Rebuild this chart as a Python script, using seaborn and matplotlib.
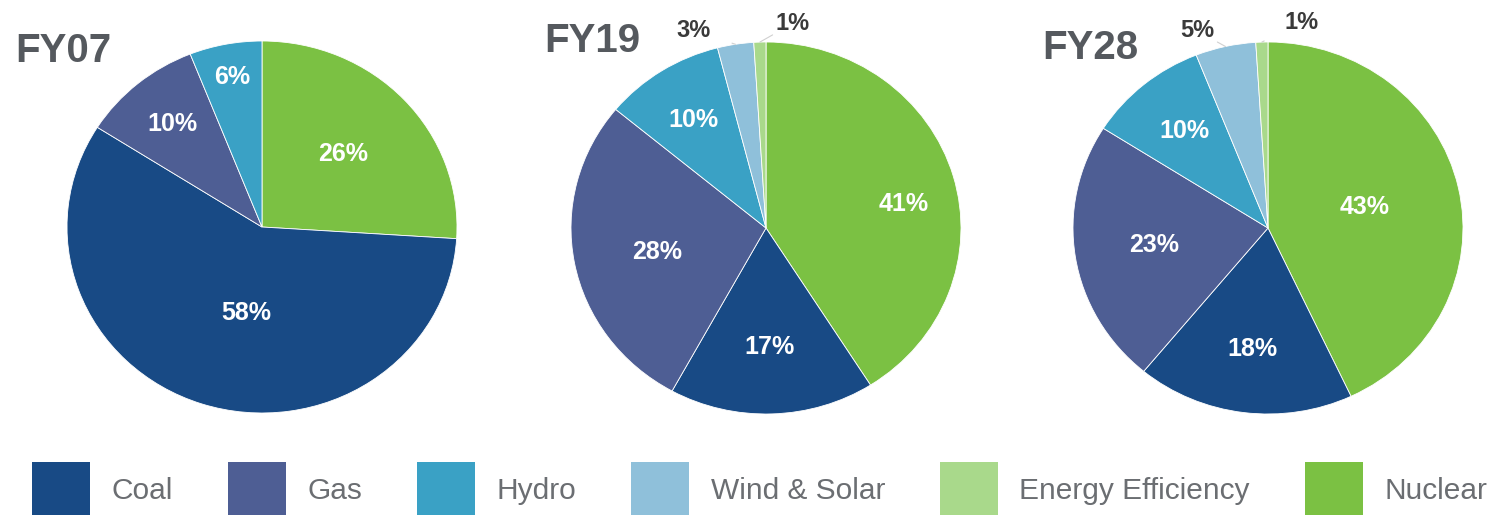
import matplotlib
matplotlib.use("Agg")
import matplotlib.pyplot as plt
import seaborn as sns
import numpy as np
from matplotlib.patches import Patch

# ---- data ----
categories = ["Coal", "Gas", "Hydro", "Wind & Solar", "Energy Efficiency", "Nuclear"]
years = ["FY07", "FY19", "FY28"]
fy07 = [58, 10, 6, 0, 0, 26]
fy19 = [17, 28, 10, 3, 1, 41]
fy28 = [18, 23, 10, 5, 1, 43]
colors = ["#184a85", "#4e5e94", "#3aa1c5", "#8fc0da", "#a9d98b", "#7bc143"]

# ---- style / layout ----
sns.set_theme(style="white")
plt.rcParams['font.family'] = ['Liberation Sans', 'DejaVu Sans']
palette = sns.color_palette(colors)

W, H = 1503, 515
fig = plt.figure(figsize=(W / 100, H / 100), dpi=100)
fig.patch.set_facecolor("white")

order = [5, 0, 1, 2, 3, 4]          # clockwise from top: Nuclear, Coal, Gas, Hydro, Wind, EE
centers = [(262, 227), (766, 228), (1268, 228)]
rx, ry = 195, 186
title_pos = [(15, 62), (544, 52), (1042, 59)]
# per-year label placement: radius and angle nudge for inside labels (by category index)
inner_r = [
    {5: (0.57, 0), 0: (0.47, 8), 1: (0.72, 0), 2: (0.82, 0)},
    {5: (0.72, -6), 0: (0.64, 0), 1: (0.575, 2), 2: (0.69, 0)},
    {5: (0.51, 0), 0: (0.656, 0), 1: (0.59, 0), 2: (0.675, 0)},
]
outer_pos = [
    {},
    {3: (-0.374, 1.06), 4: (0.138, 1.10)},
    {3: (-0.364, 1.06), 4: (0.174, 1.107)},
]

data = [fy07, fy19, fy28]
for k, vals in enumerate(data):
    cx, cy = centers[k]
    ax = fig.add_axes([(cx - rx) / W, (H - cy - ry) / H, 2 * rx / W, 2 * ry / H])
    idx = [i for i in order if vals[i] > 0]
    v = [vals[i] for i in idx]
    wedges, _ = ax.pie(v, colors=[palette[i] for i in idx], startangle=90,
                       counterclock=False, radius=1,
                       wedgeprops=dict(edgecolor="white", linewidth=0.6))
    ax.set_aspect("auto")
    ax.set_xlim(-1, 1)
    ax.set_ylim(-1, 1)
    ax.axis("off")
    for w, i in zip(wedges, idx):
        mid = np.deg2rad((w.theta1 + w.theta2) / 2)
        label = f"{vals[i]}%"
        if i in inner_r[k]:
            r, da = inner_r[k][i]
            a = mid + np.deg2rad(da)
            ax.text(r * np.cos(a), r * np.sin(a), label, ha="center", va="center",
                    color="white", fontsize=18, fontweight="bold")
        elif i in outer_pos[k]:
            tx, ty = outer_pos[k][i]
            ax.annotate(label, xy=(np.cos(mid), np.sin(mid)), xytext=(tx, ty),
                        ha="center", va="center", fontsize=17, fontweight="bold",
                        color="#3a3a3a", annotation_clip=False,
                        arrowprops=dict(arrowstyle="-", color="#d0d0d0", lw=0.8,
                                        shrinkA=14, shrinkB=0))
    tx, ty = title_pos[k]
    fig.text(tx / W, 1 - ty / H, years[k], ha="left", va="baseline",
             fontsize=29, fontweight="bold", color="#55595e")

handles = [Patch(facecolor=palette[i], edgecolor="none") for i in range(len(categories))]
fig.legend(handles, categories, loc="upper left", bbox_to_anchor=(32 / W, 1 - 462 / H),
           ncol=6, frameon=False, fontsize=21.5, handlelength=1.94, handleheight=2.45,
           handletextpad=0.72, columnspacing=1.84, borderaxespad=0, borderpad=0,
           labelcolor="#6b6e72")

fig.savefig("out.png", dpi=100, facecolor="white")
